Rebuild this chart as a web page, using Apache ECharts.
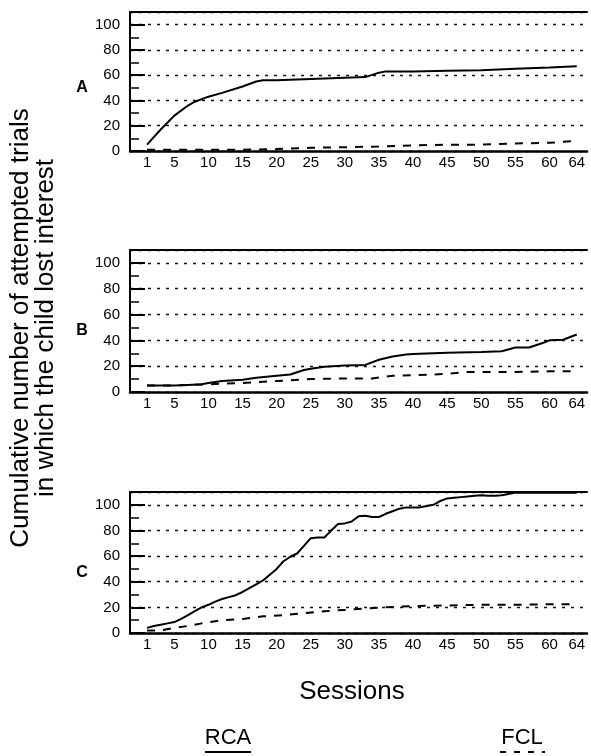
<!DOCTYPE html>
<html>
<head>
<meta charset="utf-8">
<script src="https://cdn.jsdelivr.net/npm/echarts@6/dist/echarts.min.js"></script>
<style>html,body{margin:0;padding:0;background:#fff;}#c{width:591px;height:756px;}</style>
</head>
<body>
<div id="c"></div>
<script>
// ---- data ----
const xTickLabels = [1, 5, 10, 15, 20, 25, 30, 35, 40, 45, 50, 55, 60, 64];
const yTickLabels = [0, 20, 40, 60, 80, 100];
const panelLetters = ['A', 'B', 'C'];
const seriesNames = ['RCA', 'FCL'];

const sessA_RCA = [1, 3, 5, 7, 8, 10, 12, 15, 17, 18, 20, 25, 30, 33, 35, 36, 40, 45, 50, 55, 60, 64];
const valA_RCA  = [5, 17, 28, 36, 39, 43, 46, 51, 55, 56, 56, 57, 58, 58.5, 62, 63, 63, 63.5, 64, 65, 66, 67];
const sessA_FCL = [1, 5, 10, 15, 20, 25, 30, 35, 40, 45, 50, 55, 60, 64];
const valA_FCL  = [1, 1, 1, 1, 1.5, 2.5, 3, 3.5, 4.5, 5, 5, 6, 6.5, 8];

const sessB_RCA = [1, 5, 7, 9, 10, 12, 15, 17, 20, 22, 24, 25, 27, 30, 33, 35, 37, 39, 40, 45, 50, 53, 55, 57, 59, 60, 62, 64];
const valB_RCA  = [5, 5, 5.5, 6, 7, 8.5, 9.5, 11, 12.5, 13.5, 17, 18, 19.5, 20.5, 21, 25, 27.5, 29, 29.5, 30.5, 31, 31.5, 34.5, 34.5, 38, 40, 40.5, 44.5];
const sessB_FCL = [1, 5, 10, 15, 20, 25, 30, 34, 37, 40, 45, 48, 50, 55, 60, 64];
const valB_FCL  = [5, 5, 6, 7, 8.5, 10, 10.5, 10.5, 12.5, 13, 14, 15.5, 15.5, 15.5, 16, 16];

const sessC_RCA = [1,2,3,4,5,6,7,8,9,10,11,12,13,14,15,16,17,18,19,20,21,22,23,24,25,26,27,28,29,30,31,32,33,34,35,36,37,38,39,40,41,42,43,44,45,46,47,48,49,50,51,52,53,54,55,60,64];
const valC_RCA  = [4,5.5,6.5,7.5,8.5,11,14,17,20,22,24.5,26.5,28,29.5,32,35,38,41,45.5,50,56,59.5,62,68,74,74.5,74.5,80,85,85.5,87,91,91.5,90.5,90.5,93,95,97,98,98,98,99,100,103,105,105.5,106,106.5,107,107.5,107,107,107.5,108.5,109.5,109.5,109.5];
const sessC_FCL = [1, 3, 5, 7, 9, 12, 15, 18, 21, 24, 27, 30, 33, 36, 40, 45, 50, 55, 60, 64];
const valC_FCL  = [2, 2, 4, 5.5, 7.5, 10, 11, 13, 14, 15.5, 17, 18, 19, 20, 21, 21.5, 22, 22, 22.5, 22.5];

// ---- layout ----
const FONT = 'Liberation Sans, Arial, Helvetica, sans-serif';
const grids = [
  { left: 130, top: 12, width: 457, height: 139 },
  { left: 130, top: 250, width: 457, height: 142 },
  { left: 130, top: 492, width: 457, height: 141 }
];
const letterY = [88, 331, 573];
const panelData = [
  [[sessA_RCA, valA_RCA], [sessA_FCL, valA_FCL]],
  [[sessB_RCA, valB_RCA], [sessB_FCL, valB_FCL]],
  [[sessC_RCA, valC_RCA], [sessC_FCL, valC_FCL]]
];
const zip = (s, v) => s.map((x, i) => [x, v[i]]);

const xAxis = [], yAxis = [], series = [];
grids.forEach((g, i) => {
  xAxis.push({
    type: 'value', gridIndex: i, min: -1.5, max: 65.5, position: 'bottom',
    axisLine: { show: true, onZero: false, lineStyle: { color: '#000', width: 2.5 } },
    axisTick: { show: false },
    splitLine: { show: false },
    axisLabel: { customValues: xTickLabels, color: '#000', fontSize: 15, fontFamily: FONT, margin: 4 }
  });
  xAxis.push({
    type: 'value', gridIndex: i, min: -1.5, max: 65.5, position: 'top',
    axisLine: { show: true, onZero: false, lineStyle: { color: '#000', width: 2 } },
    axisTick: { show: false }, axisLabel: { show: false }, splitLine: { show: false }
  });
  yAxis.push({
    type: 'value', gridIndex: i, min: 0, max: 110, interval: 20, position: 'left',
    axisLine: { show: true, onZero: false, lineStyle: { color: '#000', width: 2 } },
    axisTick: { show: true, inside: true, length: 15, lineStyle: { color: '#000', width: 2 } },
    axisLabel: { color: '#000', fontSize: 15, fontFamily: FONT, margin: 10, showMaxLabel: false,
      formatter: v => (yTickLabels.indexOf(v) >= 0 ? String(v) : '') },
    splitLine: { show: true, lineStyle: { color: '#111', width: 1.4, type: [3, 6] } }
  });
  yAxis.push({
    type: 'value', gridIndex: i, min: 0, max: 110, interval: 10, position: 'left',
    axisLine: { show: false, onZero: false },
    axisTick: { show: true, inside: true, length: 9, lineStyle: { color: '#000', width: 1.5 } },
    axisLabel: { show: false }, splitLine: { show: false }
  });
  panelData[i].forEach((pair, k) => {
    series.push({
      name: seriesNames[k], type: 'line', xAxisIndex: i * 2, yAxisIndex: i * 2,
      data: zip(pair[0], pair[1]), symbol: 'none', silent: true,
      lineStyle: { color: '#000', width: 2, type: k === 0 ? 'solid' : [8, 8] }
    });
  });
});

const graphic = [];
panelLetters.forEach((t, i) => {
  graphic.push({ type: 'text', x: 82, y: letterY[i],
    style: { text: t, font: 'bold 16px ' + FONT, fill: '#000', align: 'center', verticalAlign: 'middle' } });
});
graphic.push({ type: 'text', x: 33, y: 328, rotation: Math.PI / 2,
  style: { text: 'Cumulative number of attempted trials\nin which the child lost interest',
    font: '26px ' + FONT, lineHeight: 25, fill: '#000', align: 'center', verticalAlign: 'middle' } });
graphic.push({ type: 'text', x: 352, y: 692,
  style: { text: 'Sessions', font: '26px ' + FONT, fill: '#000', align: 'center', verticalAlign: 'middle' } });
graphic.push({ type: 'text', x: 228, y: 738,
  style: { text: seriesNames[0], font: '22px ' + FONT, fill: '#000', align: 'center', verticalAlign: 'middle' } });
graphic.push({ type: 'text', x: 522, y: 738,
  style: { text: seriesNames[1], font: '22px ' + FONT, fill: '#000', align: 'center', verticalAlign: 'middle' } });
graphic.push({ type: 'line', shape: { x1: 205, y1: 752, x2: 251, y2: 752 }, style: { stroke: '#000', lineWidth: 2 } });
graphic.push({ type: 'line', shape: { x1: 500, y1: 752, x2: 545, y2: 752 }, style: { stroke: '#000', lineWidth: 2, lineDash: [6, 8] } });

const chart = echarts.init(document.getElementById('c'), null, { renderer: 'canvas' });
chart.setOption({
  animation: false,
  backgroundColor: '#fff',
  grid: grids,
  xAxis: xAxis,
  yAxis: yAxis,
  series: series,
  graphic: graphic
});
</script>
</body>
</html>
